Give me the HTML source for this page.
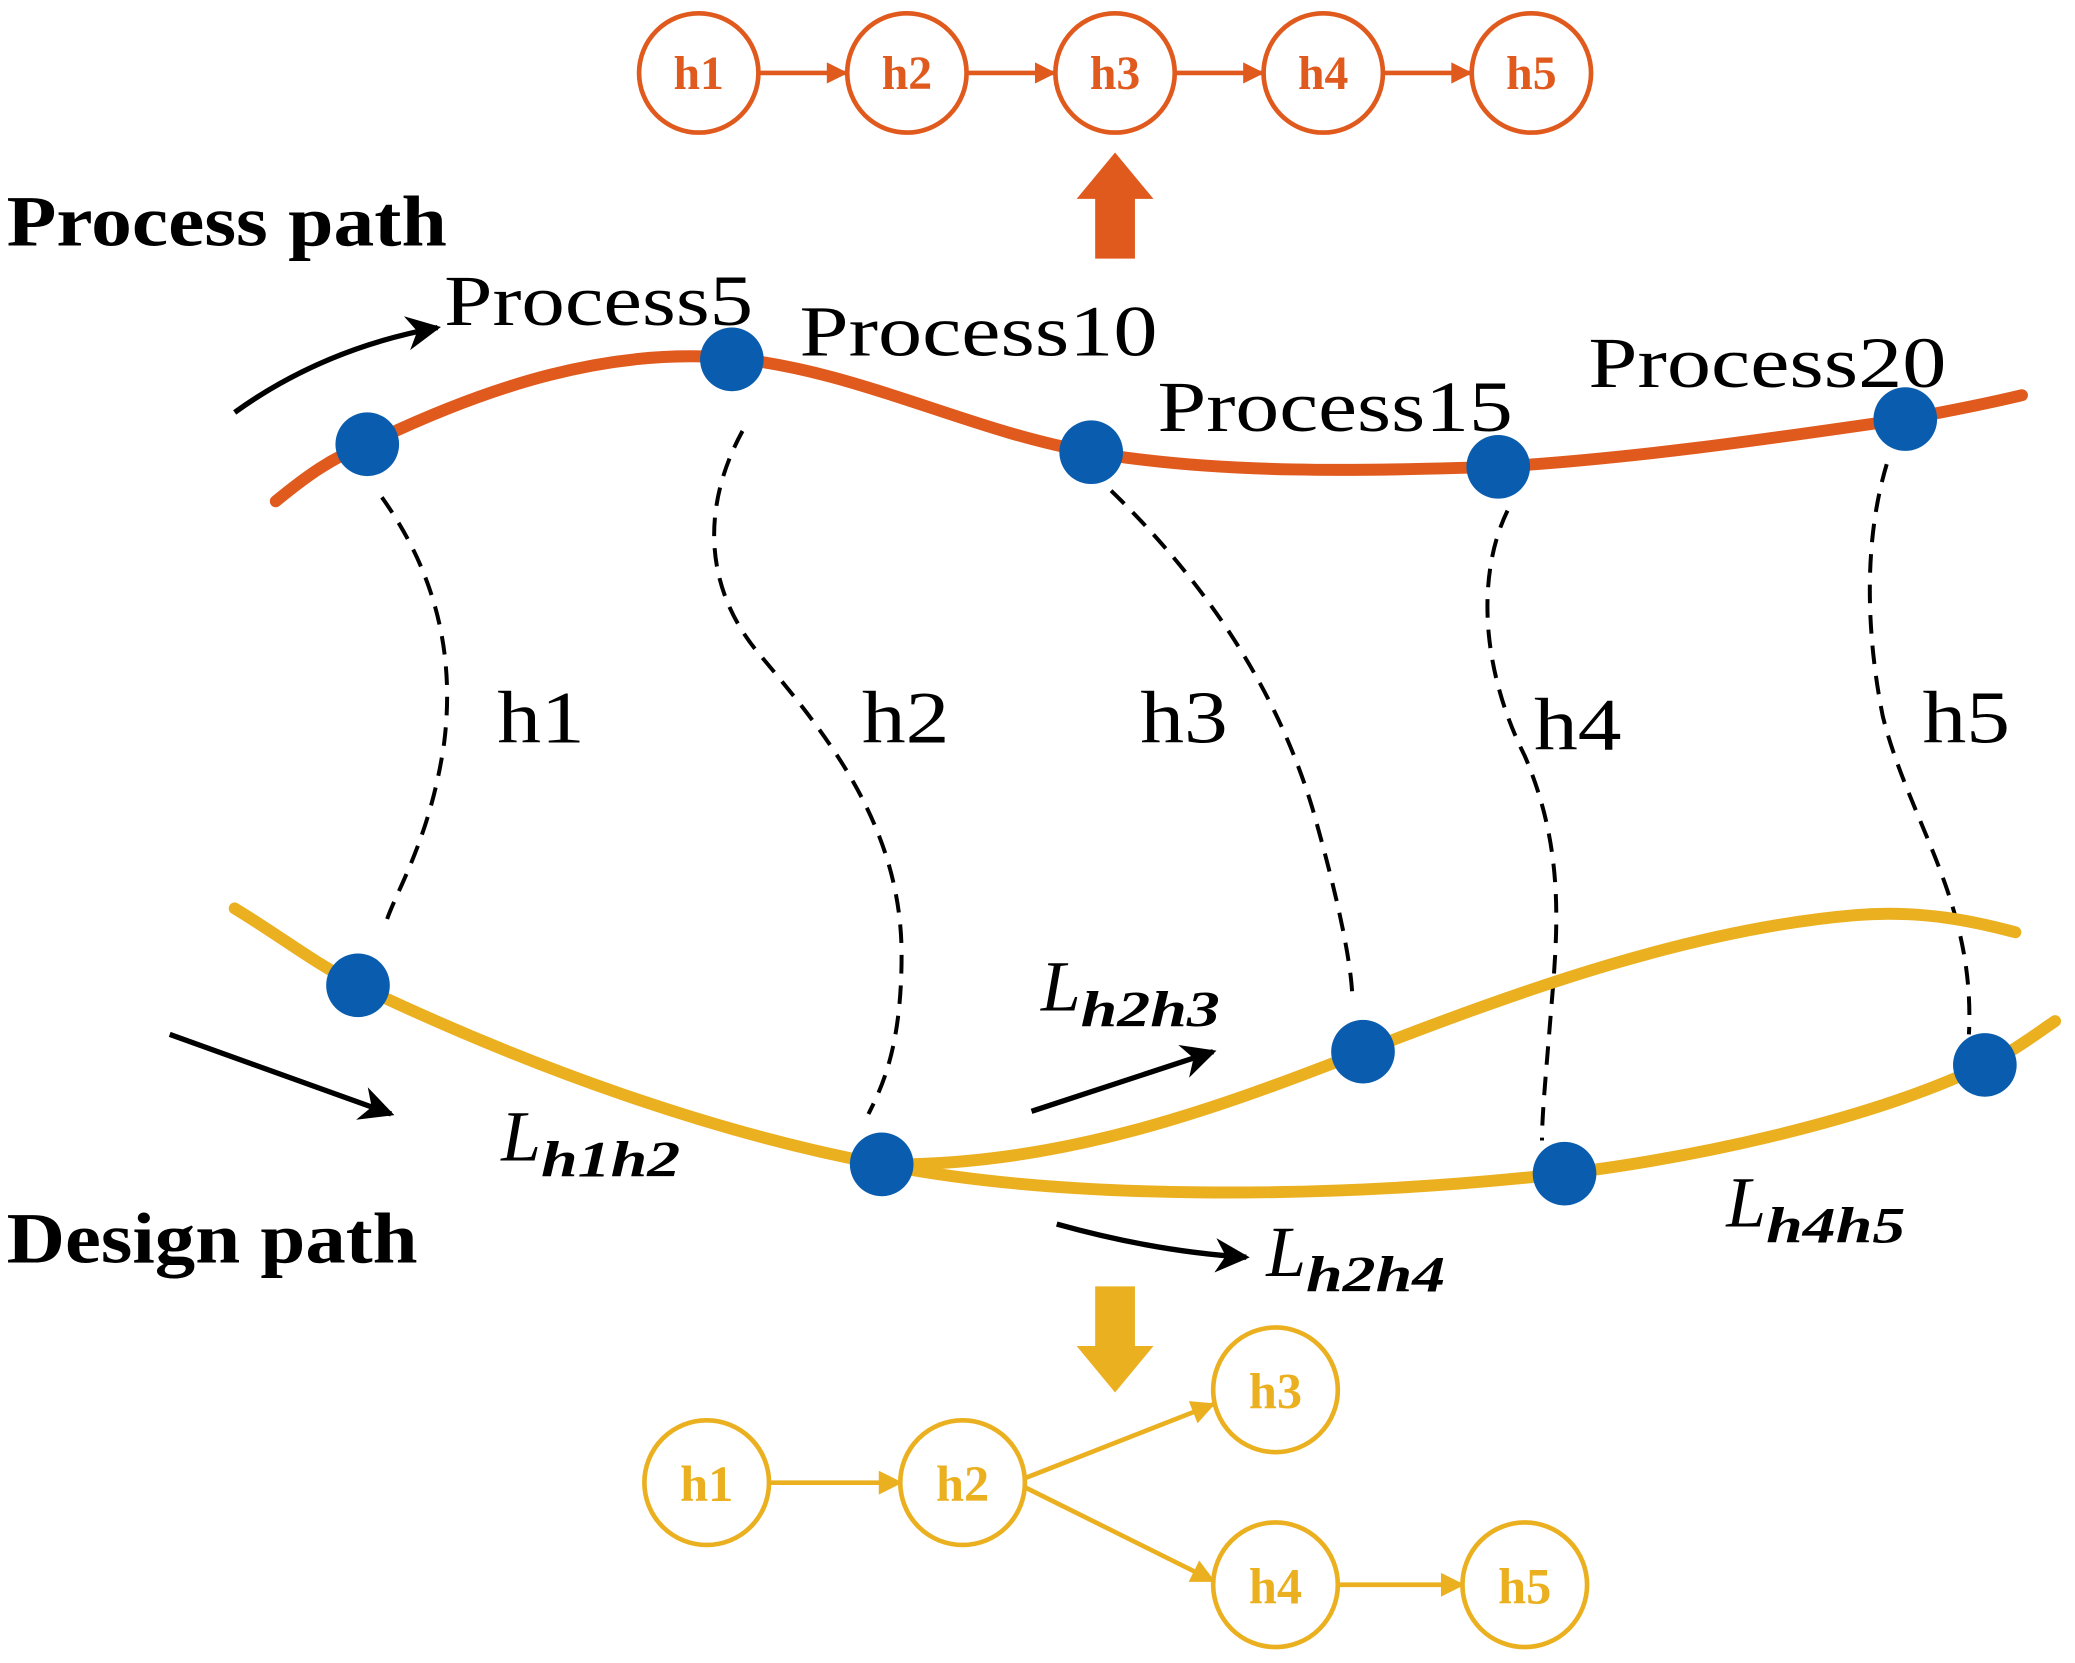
<!DOCTYPE html>
<html><head><meta charset="utf-8"><style>html,body{margin:0;padding:0;background:#fff}svg{display:block}</style></head><body>
<svg width="2075" height="1663" viewBox="0 0 1565 1254" preserveAspectRatio="none" xmlns="http://www.w3.org/2000/svg">
<defs>
<marker id="ao" viewBox="0 0 10 10" markerWidth="20" markerHeight="16" refX="9" refY="5" orient="auto" markerUnits="userSpaceOnUse"><path d="M0,0 L10,5 L0,10z" fill="#E05A1E"/></marker>
<marker id="ay" viewBox="0 0 10 10" markerWidth="22" markerHeight="18" refX="9" refY="5" orient="auto" markerUnits="userSpaceOnUse"><path d="M0,0 L10,5 L0,10z" fill="#EBB020"/></marker>
<marker id="ak" viewBox="0 0 10 10" markerWidth="34" markerHeight="26" refX="9" refY="5" orient="auto" markerUnits="userSpaceOnUse"><path d="M0,0 L10,5 L0,10 L3,5z" fill="#000"/></marker>
</defs>
<g font-family="Liberation Serif, serif" font-weight="bold" font-size="36" text-anchor="middle" fill="#E05A1E">
<g fill="#fff" stroke="#E05A1E" stroke-width="3.5">
<circle cx="527" cy="55" r="45"/><circle cx="684" cy="55" r="45"/><circle cx="841" cy="55" r="45"/><circle cx="998" cy="55" r="45"/><circle cx="1155" cy="55" r="45"/></g>
<g stroke="#E05A1E" stroke-width="3.5">
<line x1="572" y1="55" x2="638" y2="55" marker-end="url(#ao)"/><line x1="729" y1="55" x2="795" y2="55" marker-end="url(#ao)"/><line x1="886" y1="55" x2="952" y2="55" marker-end="url(#ao)"/><line x1="1043" y1="55" x2="1109" y2="55" marker-end="url(#ao)"/></g>
<text x="527" y="67">h1</text><text x="684" y="67">h2</text><text x="841" y="67">h3</text><text x="998" y="67">h4</text><text x="1155" y="67">h5</text>
</g>
<path d="M826,195 V150 H812 L841,115 L870,150 H856 V195z" fill="#E05A1E"/>
<g font-family="Liberation Serif, serif" fill="#000">
<text x="5" y="185" font-size="54" font-weight="bold" textLength="332" lengthAdjust="spacingAndGlyphs">Process path</text>
<text x="5" y="952" font-size="54" font-weight="bold" textLength="310" lengthAdjust="spacingAndGlyphs">Design path</text>
<text x="335" y="245" font-size="54" textLength="233" lengthAdjust="spacingAndGlyphs">Process5</text>
<text x="603" y="268" font-size="54" textLength="270" lengthAdjust="spacingAndGlyphs">Process10</text>
<text x="873" y="325" font-size="54" textLength="268" lengthAdjust="spacingAndGlyphs">Process15</text>
<text x="1198" y="292" font-size="54" textLength="270" lengthAdjust="spacingAndGlyphs">Process20</text>
<g font-size="56">
<text x="375" y="560" textLength="66" lengthAdjust="spacingAndGlyphs">h1</text>
<text x="650" y="560" textLength="66" lengthAdjust="spacingAndGlyphs">h2</text>
<text x="860" y="560" textLength="66" lengthAdjust="spacingAndGlyphs">h3</text>
<text x="1157" y="565" textLength="66" lengthAdjust="spacingAndGlyphs">h4</text>
<text x="1450" y="560" textLength="66" lengthAdjust="spacingAndGlyphs">h5</text></g>
<g font-style="italic" font-size="54"><text x="378" y="875">L<tspan font-size="38" font-weight="bold" dy="12" textLength="105" lengthAdjust="spacingAndGlyphs">h1h2</tspan></text>
<text x="785" y="762">L<tspan font-size="38" font-weight="bold" dy="12" textLength="105" lengthAdjust="spacingAndGlyphs">h2h3</tspan></text>
<text x="955" y="962">L<tspan font-size="38" font-weight="bold" dy="12" textLength="105" lengthAdjust="spacingAndGlyphs">h2h4</tspan></text>
<text x="1302" y="925">L<tspan font-size="38" font-weight="bold" dy="12" textLength="105" lengthAdjust="spacingAndGlyphs">h4h5</tspan></text></g>
</g>
<path d="M208,378 C230,360 250,345 277,335 C370,290 460,262 552,270 C650,280 730,325 823,341 C920,358 1030,355 1130,352 C1240,345 1340,330 1437,316 C1470,310 1500,304 1525,298" fill="none" stroke="#E05A1E" stroke-width="9" stroke-linecap="round"/>
<g fill="none" stroke="#000" stroke-width="3" stroke-dasharray="14,9">
<path d="M288,375 C320,420 345,480 335,560 C325,630 300,670 292,693"/>
<path d="M560,325 C530,380 530,440 570,490 C620,550 680,620 680,720 C680,790 665,820 655,840"/>
<path d="M838,370 C900,430 960,510 990,610 C1010,680 1020,730 1020,755"/>
<path d="M1137,385 C1115,430 1115,500 1150,570 C1180,640 1175,700 1170,760 C1166,810 1163,840 1163,860"/>
<path d="M1423,350 C1405,410 1408,480 1420,540 C1440,620 1490,680 1485,780"/>
</g>
<g fill="none" stroke="#EBB020" stroke-width="9" stroke-linecap="round">
<path d="M177,685 C210,705 240,728 270,743 C400,805 540,855 665,878 C800,905 1000,905 1180,885 C1300,870 1420,840 1497,803 C1520,792 1535,780 1550,770"/>
<path d="M665,878 C800,880 920,835 1028,793 C1150,745 1280,700 1400,690 C1450,686 1490,695 1520,703"/>
</g>
<g fill="#0A5DAE">
<circle cx="277" cy="335" r="24"/><circle cx="552" cy="271" r="24"/><circle cx="823" cy="341" r="24"/><circle cx="1130" cy="352" r="24"/><circle cx="1437" cy="316" r="24"/>
<circle cx="270" cy="743" r="24"/><circle cx="665" cy="878" r="24"/><circle cx="1028" cy="793" r="24"/><circle cx="1180" cy="885" r="24"/><circle cx="1497" cy="803" r="24"/>
</g>
<g fill="none" stroke="#000" stroke-width="4">
<path d="M177,311 C220,280 270,258 330,247" marker-end="url(#ak)"/>
<line x1="128" y1="780" x2="295" y2="840" marker-end="url(#ak)"/>
<line x1="778" y1="838" x2="915" y2="793" marker-end="url(#ak)"/>
<path d="M797,923 C840,935 890,945 940,948" marker-end="url(#ak)"/>
</g>
<path d="M826,970 V1015 H812 L841,1050 L870,1015 H856 V970z" fill="#EBB020"/>
<g font-family="Liberation Serif, serif" font-weight="bold" font-size="38" text-anchor="middle" fill="#EBB020">
<g fill="#fff" stroke="#EBB020" stroke-width="3.5">
<circle cx="533" cy="1118" r="47"/><circle cx="726" cy="1118" r="47"/><circle cx="962" cy="1048" r="47"/><circle cx="962" cy="1195" r="47"/><circle cx="1150" cy="1195" r="47"/></g>
<g stroke="#EBB020" stroke-width="3.5">
<line x1="580" y1="1118" x2="679" y2="1118" marker-end="url(#ay)"/>
<line x1="772" y1="1115" x2="915" y2="1059" marker-end="url(#ay)"/>
<line x1="772" y1="1121" x2="915" y2="1192" marker-end="url(#ay)"/>
<line x1="1009" y1="1195" x2="1103" y2="1195" marker-end="url(#ay)"/></g>
<text x="533" y="1132">h1</text><text x="726" y="1132">h2</text><text x="962" y="1062">h3</text><text x="962" y="1209">h4</text><text x="1150" y="1209">h5</text>
</g>
</svg>
</body></html>
